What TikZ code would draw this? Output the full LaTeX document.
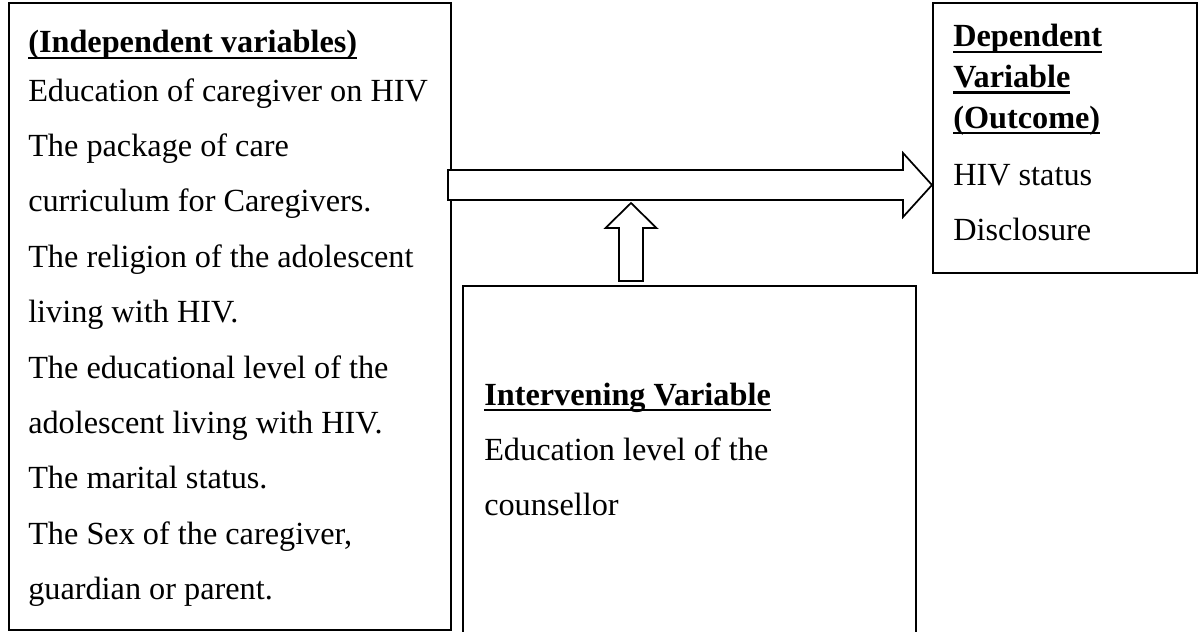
\documentclass[tikz,border=0pt]{standalone}
\usepackage{fontspec}
\setmainfont{Liberation Serif}
\usetikzlibrary{calc}
\newcommand\myul[1]{\setbox0\hbox{#1}\rlap{\rule[-4.6pt]{\wd0}{1.9pt}}\box0}
\begin{document}
\begin{tikzpicture}[x=0.75pt,y=-0.75pt,
  box/.style={draw, line width=1.5pt, inner sep=0pt, fill=white},
  txt/.style={anchor=base west, inner sep=0pt, font=\fontsize{24.2pt}{41.55pt}\selectfont},
  blockarrow/.style={draw, line width=1.3pt, fill=white, line join=miter}]
\clip (0,0) rectangle (1201,631);
\fill[white] (0,0) rectangle (1201,631);
% boxes
\node[box, minimum width=331.875pt, minimum height=470.25pt] (indep) at (229.75,316.5) {};
\node[box, minimum width=198pt, minimum height=202.5pt] (dep) at (1065,138) {};
\node[box, minimum width=339.75pt, minimum height=295.5pt] (inter) at (689.5,483) {};
% texts
\node[txt] (indeptext) at (28,53) {\vtop{%
  \hbox{\myul{\textbf{(Independent variables)}}}\vskip-5.5pt
  \hbox{Education of caregiver on HIV}
  \hbox{The package of care}
  \hbox{curriculum for Caregivers.}
  \hbox{The religion of the adolescent}
  \hbox{living with HIV.}
  \hbox{The educational level of the}
  \hbox{adolescent living with HIV.}
  \hbox{The marital status.}
  \hbox{The Sex of the caregiver,}
  \hbox{guardian or parent.}}};
\node[txt] (deptext) at (953,47) {\vtop{\baselineskip=30.4pt
  \hbox{\myul{\textbf{Dependent}}}
  \hbox{\myul{\textbf{Variable}}}
  \hbox{\myul{\textbf{(Outcome)}}}\vskip12.35pt
  \hbox{HIV status}\vskip10.85pt
  \hbox{Disclosure}}};
\node[txt] (intertext) at (484,405) {\vtop{%
  \hbox{\myul{\textbf{Intervening Variable}}}
  \hbox{Education level of the}
  \hbox{counsellor}}};
% horizontal block arrow
\coordinate (hs) at (448,185);
\coordinate (ht) at (dep.west |- hs);
\draw[blockarrow] ($(hs)+(0,-15)$) -- ($(ht)+(-29,-15)$) -- ($(ht)+(-29,-32)$) -- (ht)
  -- ($(ht)+(-29,32)$) -- ($(ht)+(-29,15)$) -- ($(hs)+(0,15)$) -- cycle;
% vertical block arrow
\coordinate (ub) at (631,281);
\coordinate (ut) at (631,203);
\draw[blockarrow] ($(ub)+(-12,0)$) -- ($(ut)+(-12,25)$) -- ($(ut)+(-25.5,25)$) -- (ut)
  -- ($(ut)+(25.5,25)$) -- ($(ut)+(12,25)$) -- ($(ub)+(12,0)$) -- cycle;
\end{tikzpicture}
\end{document}
